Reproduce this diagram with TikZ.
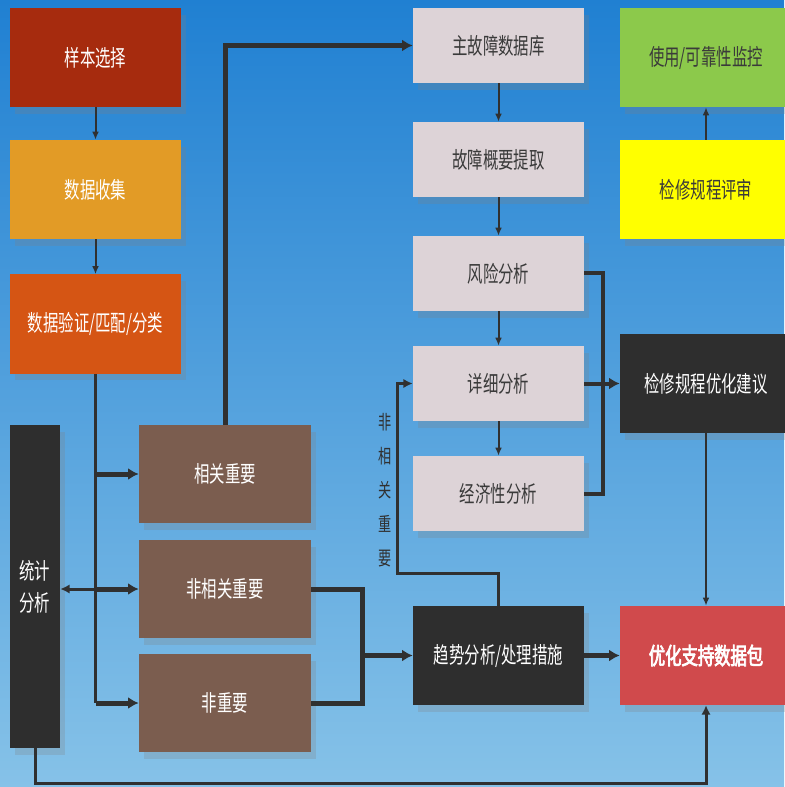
\documentclass[tikz,border=0pt]{standalone}
\usepackage{fontspec}
\newfontfamily\cjk[FakeStretch=0.68]{Noto Sans CJK SC}
\newfontfamily\cjkbold[FakeStretch=0.7,FakeBold=3]{Noto Sans CJK SC}
\usetikzlibrary{arrows.meta,shadows}
\definecolor{bgtop}{HTML}{2080D2}
\definecolor{bgmid}{HTML}{2C86D3}
\definecolor{bgbottom}{HTML}{86C2E8}
\definecolor{boxred}{HTML}{A62B0E}
\definecolor{boxamber}{HTML}{E29B26}
\definecolor{boxorange}{HTML}{D55514}
\definecolor{boxbrown}{HTML}{7B5D4F}
\definecolor{boxlight}{HTML}{DDD3D7}
\definecolor{boxdark}{HTML}{2E2E2E}
\definecolor{boxgreen}{HTML}{8CC94B}
\definecolor{boxyellow}{HTML}{FFFF00}
\definecolor{boxcrimson}{HTML}{D04A4C}
\definecolor{linegray}{HTML}{303030}
\definecolor{textgray}{HTML}{3A3A3A}
\tikzset{
  flowbox/.style={rectangle, inner sep=0pt, align=center, font=\cjk\fontsize{17}{24}\selectfont, drop shadow={shadow xshift=4pt, shadow yshift=-5pt, opacity=0.25}},
  wide/.style={flowbox, minimum width=128.25pt, minimum height=74.25pt},
  flat/.style={flowbox, minimum width=128.25pt, minimum height=56.25pt},
  redbox/.style={wide, fill=boxred, text=white},
  amberbox/.style={wide, fill=boxamber, text=white},
  orangebox/.style={wide, fill=boxorange, text=white},
  brownbox/.style={wide, fill=boxbrown, text=white, minimum width=129pt, minimum height=73.5pt},
  lightbox/.style={flat, fill=boxlight, text=textgray},
  darkbox/.style={wide, fill=boxdark, text=white},
  greenbox/.style={wide, fill=boxgreen, text=textgray, minimum width=129pt},
  yellowbox/.style={wide, fill=boxyellow, text=textgray, minimum width=129pt},
  crimsonbox/.style={wide, fill=boxcrimson, text=white, minimum width=129pt, font=\cjkbold\fontsize{17.5}{20}\selectfont},
  statbox/.style={flowbox, fill=boxdark, text=white, minimum width=37.5pt, minimum height=242.25pt},
  vlabel/.style={align=center, text=linegray, font=\cjk\fontsize{14.5}{25.5}\selectfont},
  thinflow/.style={linegray, line width=1.5pt, -{Latex[length=6pt,width=5pt]}},
  midline/.style={linegray, line width=2.25pt},
  midflow/.style={midline, -{Latex[length=7pt,width=7pt]}},
  thickline/.style={linegray, line width=3.75pt},
  thickflow/.style={thickline, -{Latex[length=8pt,width=9pt]}}
}
\begin{document}
\begin{tikzpicture}[x=0.75pt, y=-0.75pt]
  \useasboundingbox (0,0) rectangle (784,787);
  \shade[top color=bgtop, middle color=bgmid, bottom color=bgbottom] (0,0) rectangle (784,787);
  % left column
  \node[redbox] (sample) at (95.5,57.5) {样本选择};
  \node[amberbox] (collect) at (95.5,189.5) {数据收集};
  \node[orangebox] (verify) at (95.5,324) {数据验证/匹配/分类};
  \node[statbox] (stat) at (35,586.5) {统计\\分析};
  % importance classes
  \node[brownbox] (relimp) at (225,474) {相关重要};
  \node[brownbox] (nonrel) at (225,589) {非相关重要};
  \node[brownbox] (nonimp) at (225,703) {非重要};
  % fault analysis chain
  \node[lightbox] (faultdb) at (498.5,45.5) {主故障数据库};
  \node[lightbox] (summary) at (498.5,159.5) {故障概要提取};
  \node[lightbox] (risk) at (498.5,273.5) {风险分析};
  \node[lightbox] (detail) at (498.5,383.5) {详细分析};
  \node[lightbox] (econ) at (498.5,493.5) {经济性分析};
  \node[darkbox] (trend) at (498.5,655.5) {趋势分析/处理措施};
  % right column
  \node[greenbox] (monitor) at (706,57.5) {使用/可靠性监控};
  \node[yellowbox] (review) at (706,189.5) {检修规程评审};
  \node[darkbox, minimum width=129pt] (advice) at (706,383.5) {检修规程优化建议};
  \node[crimsonbox] (package) at (706,655.5) {优化支持数据包};
  \node[vlabel] (nrlabel) at (385,490) {非\\相\\关\\重\\要};
  % connectors
  \draw[thinflow] (sample) -- (collect);
  \draw[thinflow] (collect) -- (verify);
  \draw[midline] (verify.south) -- (verify.south |- nonimp.west);
  \draw[thickflow] (verify.south |- relimp.west) -- (relimp.west);
  \draw[thickflow] (verify.south |- nonrel.west) -- (nonrel.west);
  \draw[thickflow] (verify.south |- nonimp.west) -- (nonimp.west);
  \draw[midflow] (verify.south |- nonrel.west) -- (stat.east |- nonrel.west);
  \draw[thickflow] (relimp.north) |- (faultdb.west);
  \draw[thinflow] (faultdb) -- (summary);
  \draw[thinflow] (summary) -- (risk);
  \draw[thinflow] (risk) -- (detail);
  \draw[thinflow] (detail) -- (econ);
  \coordinate (riskbus) at (603,273.5);
  \draw[thickline, line width=3pt] (risk.east) -- (riskbus) |- (econ.east);
  \draw[thickflow, line width=3pt] (detail.east) -- (advice.west);
  \draw[thinflow] (advice) -- (package);
  \coordinate (classbus) at (362,589);
  \draw[thickline] (nonrel.east) -- (classbus) |- (nonimp.east);
  \draw[thickflow] (classbus |- trend.west) -- (trend.west);
  \draw[thickflow] (trend) -- (package);
  \coordinate (loopcorner) at (397,573);
  \draw[midflow] (trend.north) |- (loopcorner) |- (detail.west);
  \coordinate (statfoot) at (35,783);
  \draw[midflow] (stat.south) -- (statfoot) -| (package.south);
  \draw[thinflow] (review) -- (monitor);
\end{tikzpicture}
\end{document}
